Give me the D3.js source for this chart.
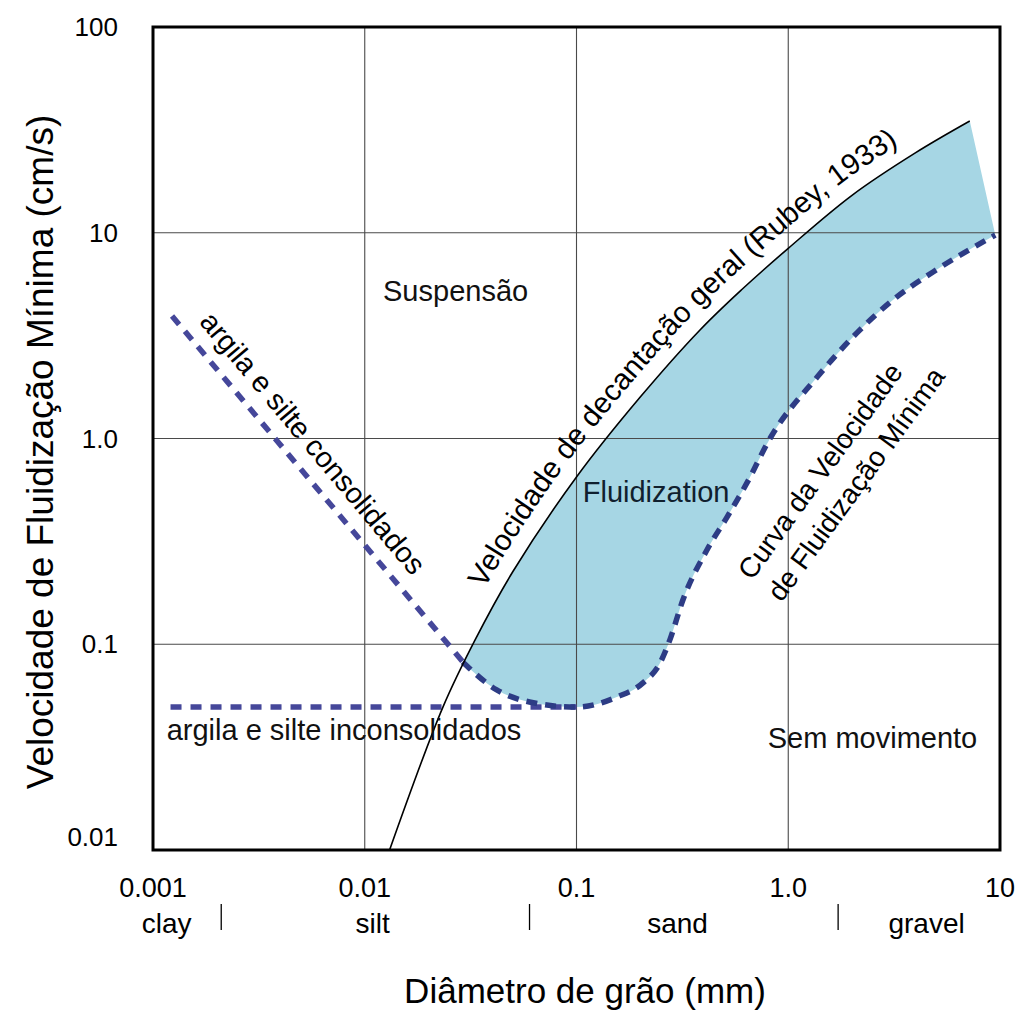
<!DOCTYPE html>
<html>
<head>
<meta charset="utf-8">
<script src="https://cdn.jsdelivr.net/npm/d3@7"></script>
<style>
  body { margin: 0; background: #fff; }
  svg { font-family: "Liberation Sans", Arial, sans-serif; }
</style>
</head>
<body>
<svg id="chart" width="1017" height="1014"></svg>
<script>
// ticks
const xTicks = [0.001, 0.01, 0.1, 1, 10];
const xTickLabels = ["0.001", "0.01", "0.1", "1.0", "10"];
const yTicks = [0.01, 0.1, 1, 10, 100];
const yTickLabels = ["0.01", "0.1", "1.0", "10", "100"];

// grain size classes
const classNames = ["clay", "silt", "sand", "gravel"];
const classCenters = [0.00116, 0.0109, 0.30, 4.5];
const classBounds = [0.0021, 0.06, 1.72];

// settling velocity (Rubey, 1933)
const rubeyX = [0.0131, 0.0234, 0.0332, 0.05, 0.1, 0.2, 0.383, 0.6, 1.0, 2.0, 4.0, 7.2];
const rubeyY = [0.01, 0.0495, 0.105, 0.225, 0.65, 1.59, 3.37, 5.27, 8.4, 15.2, 24.5, 34.9];

// minimum fluidization velocity curve
const minX = [0.029, 0.042, 0.06, 0.1, 0.155, 0.206, 0.248, 0.276, 0.318, 0.413, 0.514, 0.638, 0.82, 1.37, 2.11, 3.12, 4.83, 9.5];
const minY = [0.082, 0.060, 0.0524, 0.0495, 0.0554, 0.0649, 0.081, 0.105, 0.164, 0.287, 0.415, 0.608, 1.0, 1.99, 3.26, 4.71, 6.45, 9.75];

// clay and silt, consolidated / unconsolidated
const consolX = [0.00123, 0.0291];
const consolY = [3.94, 0.082];
const unconsolX = [0.00121, 0.1];
const unconsolY = [0.0495, 0.0495];

const svg = d3.select("#chart");
const pLeft = 153, pRight = 1000, pTop = 27, pBottom = 850;

const x = d3.scaleLog().domain([0.001, 10]).range([pLeft, pRight]);
const y = d3.scaleLog().domain([0.01, 100]).range([pBottom, pTop]);

const zip = (xs, ys) => xs.map((v, i) => [v, ys[i]]);
const rubey = zip(rubeyX, rubeyY);
const minCurve = zip(minX, minY);

const line = d3.line()
    .x(d => x(d[0]))
    .y(d => y(d[1]))
    .curve(d3.curveMonotoneX);

const smooth = d3.line()
    .x(d => x(d[0]))
    .y(d => y(d[1]))
    .curve(d3.curveCatmullRom.alpha(0.5));

// fluidization zone: below Rubey curve, above min curve
const defs = svg.append("defs");
const mEnd = minCurve[minCurve.length - 1];
defs.append("clipPath").attr("id", "belowRubey")
    .append("path")
    .attr("d", smooth(rubey) + "L" + x(mEnd[0]) + "," + y(mEnd[1]) +
        "L" + x(mEnd[0]) + "," + pBottom + "L" + x(rubey[0][0]) + "," + pBottom + "Z");

svg.append("path")
    .attr("clip-path", "url(#belowRubey)")
    .attr("d", line(minCurve) + "L" + pRight + "," + pTop + "L" + x(minCurve[0][0]) + "," + pTop + "Z")
    .attr("fill", "#a6d6e4");

// grid
svg.append("g").selectAll("line")
    .data(xTicks.slice(1, -1))
    .join("line")
    .attr("x1", d => x(d)).attr("x2", d => x(d))
    .attr("y1", pTop).attr("y2", pBottom)
    .attr("stroke", "#4a4a4a").attr("stroke-width", 1.1);

svg.append("g").selectAll("line")
    .data(yTicks.slice(1, -1))
    .join("line")
    .attr("y1", d => y(d)).attr("y2", d => y(d))
    .attr("x1", pLeft).attr("x2", pRight)
    .attr("stroke", "#4a4a4a").attr("stroke-width", 1.1);

// dashed lines
svg.append("path")
    .attr("d", line(zip(consolX, consolY)))
    .attr("fill", "none").attr("stroke", "#45479a")
    .attr("stroke-width", 5.5).attr("stroke-dasharray", "11,9");

svg.append("path")
    .attr("d", line(zip(unconsolX, unconsolY)))
    .attr("fill", "none").attr("stroke", "#45479a")
    .attr("stroke-width", 5.5).attr("stroke-dasharray", "11,9");

svg.append("path")
    .attr("d", line(minCurve))
    .attr("fill", "none").attr("stroke", "#2d3c85")
    .attr("stroke-width", 5.5).attr("stroke-dasharray", "11,8");

// Rubey curve
const rubeyPath = svg.append("path")
    .attr("d", smooth(rubey))
    .attr("fill", "none").attr("stroke", "#000").attr("stroke-width", 1.6);

// offset path for the curved label
const node = rubeyPath.node();
const total = node.getTotalLength();
const offPts = [];
for (let s = 0; s < total - 1; s += 3) {
    const p = node.getPointAtLength(s);
    const q = node.getPointAtLength(s + 1);
    const dx = q.x - p.x, dy = q.y - p.y, len = Math.hypot(dx, dy);
    const o = [p.x + 16 * dy / len, p.y - 16 * dx / len];
    if (o[0] < x(0.0365)) continue;
    offPts.push(o);
}
defs.append("path").attr("id", "rubeyLabel")
    .attr("d", d3.line().curve(d3.curveBasis)(offPts));

// one text per word so each box stays small
let off = 0;
"Velocidade de decantação geral (Rubey, 1933)".split(" ").forEach(w => {
    const tp = svg.append("text")
        .attr("font-size", 29.5)
        .append("textPath")
        .attr("href", "#rubeyLabel")
        .attr("startOffset", off)
        .text(w);
    off += tp.node().getComputedTextLength() + 29.5 * 0.278;
});

// frame
svg.append("rect")
    .attr("x", pLeft).attr("y", pTop)
    .attr("width", pRight - pLeft).attr("height", pBottom - pTop)
    .attr("fill", "none").attr("stroke", "#000").attr("stroke-width", 3);

// tick labels
svg.append("g").selectAll("text")
    .data(xTicks)
    .join("text")
    .attr("x", d => x(d)).attr("y", 897)
    .attr("text-anchor", "middle").attr("font-size", 27)
    .text((d, i) => xTickLabels[i]);

svg.append("g").selectAll("text")
    .data(yTicks)
    .join("text")
    .attr("x", 118).attr("y", d => y(d))
    .attr("dy", (d, i) => i === 0 ? "-0.15em" : "0.35em")
    .attr("text-anchor", "end").attr("font-size", 26)
    .text((d, i) => yTickLabels[i]);

// grain classes
svg.append("g").selectAll("text")
    .data(classCenters)
    .join("text")
    .attr("x", d => x(d)).attr("y", 933)
    .attr("text-anchor", "middle").attr("font-size", 28)
    .text((d, i) => classNames[i]);

svg.append("g").selectAll("line")
    .data(classBounds)
    .join("line")
    .attr("x1", d => x(d)).attr("x2", d => x(d))
    .attr("y1", 904).attr("y2", 930)
    .attr("stroke", "#000").attr("stroke-width", 1.3);

// axis titles
svg.append("text")
    .attr("x", 585).attr("y", 1003)
    .attr("text-anchor", "middle").attr("font-size", 35)
    .text("Diâmetro de grão (mm)");

svg.append("text")
    .attr("transform", "translate(53,452) rotate(-90)")
    .attr("text-anchor", "middle").attr("font-size", 37)
    .text("Velocidade de Fluidização Mínima (cm/s)");

// annotations
const note = (px, py, txt, color) => svg.append("text")
    .attr("x", x(px)).attr("y", y(py))
    .attr("font-size", 29).attr("fill", color || "#111")
    .text(txt);

note(0.0122, 4.66, "Suspensão");
note(0.107, 0.49, "Fluidization", "#10202e");
note(0.80, 0.0313, "Sem movimento");
note(0.00116, 0.0343, "argila e silte inconsolidados");

svg.append("text")
    .attr("transform", "translate(313,443) rotate(50)")
    .attr("text-anchor", "middle").attr("dy", "0.35em")
    .attr("font-size", 29)
    .text("argila e silte consolidados");

svg.append("text")
    .attr("transform", "translate(820,471) rotate(-54)")
    .attr("text-anchor", "middle").attr("dy", "0.35em")
    .attr("font-size", 28)
    .text("Curva da Velocidade");

svg.append("text")
    .attr("transform", "translate(856,484) rotate(-54)")
    .attr("text-anchor", "middle").attr("dy", "0.35em")
    .attr("font-size", 28)
    .text("de Fluidização Mínima");
</script>
</body>
</html>
